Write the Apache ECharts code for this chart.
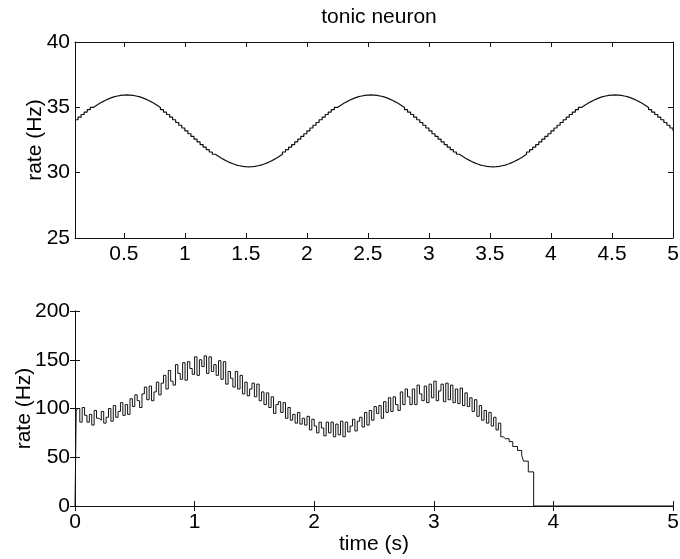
<!DOCTYPE html>
<html>
<head>
<meta charset="utf-8">
<script src="https://cdn.jsdelivr.net/npm/echarts@6/dist/echarts.min.js"></script>
<style>html,body{margin:0;padding:0;background:#fff}#c{width:680px;height:559px}</style>
</head>
<body>
<div id="c"></div>
<script>
// ---- data ----
const titleText = 'tonic neuron';
// top panel: rate sampled every 0.025 s starting at 0.1 s
const topStart = 0.1, topStep = 0.025;
const topRates = [
 34.05,34.25,34.45,34.64,34.82,34.99,35.14,35.29,35.42,35.54,35.65,35.74,35.82,35.87,35.92,35.94,35.95,
 35.94,35.92,35.87,35.82,35.74,35.65,35.54,35.42,35.29,35.14,34.99,34.82,34.64,34.45,34.25,34.05,33.84,33.63,33.42,
 33.20,32.98,32.77,32.56,32.35,32.15,31.95,31.76,31.58,31.41,31.26,31.11,30.98,30.86,30.75,30.66,30.58,30.53,30.48,30.46,30.45,
 30.46,30.48,30.53,30.58,30.66,30.75,30.86,30.98,31.11,31.26,31.41,31.58,31.76,31.95,32.15,32.35,32.56,32.77,32.98,
 33.20,33.42,33.63,33.84,34.05,34.25,34.45,34.64,34.82,34.99,35.14,35.29,35.42,35.54,35.65,35.74,35.82,35.87,35.92,35.94,35.95,
 35.94,35.92,35.87,35.82,35.74,35.65,35.54,35.42,35.29,35.14,34.99,34.82,34.64,34.45,34.25,34.05,33.84,33.63,33.42,
 33.20,32.98,32.77,32.56,32.35,32.15,31.95,31.76,31.58,31.41,31.26,31.11,30.98,30.86,30.75,30.66,30.58,30.53,30.48,30.46,30.45,
 30.46,30.48,30.53,30.58,30.66,30.75,30.86,30.98,31.11,31.26,31.41,31.58,31.76,31.95,32.15,32.35,32.56,32.77,32.98,
 33.20,33.42,33.63,33.84,34.05,34.25,34.45,34.64,34.82,34.99,35.14,35.29,35.42,35.54,35.65,35.74,35.82,35.87,35.92,35.94,35.95,
 35.94,35.92,35.87,35.82,35.74,35.65,35.54,35.42,35.29,35.14,34.99,34.82,34.64,34.45,34.25,34.05,33.84,33.63,33.42,33.20
];
const topXTicks = [0.5,1,1.5,2,2.5,3,3.5,4,4.5,5];

// bottom panel
const onsetTimes = [0, 0.01];
const onsetRates = [0, 97];
const bottomStart = 0.02, bottomStep = 0.02;
const bottomRates = [
 100,86,101,93,86,94,83,98,90,88, 97,85,91,100,87,103,91,97,106,93,
 104,94,110,102,114,108,101,115,122,109, 123,108,117,127,114,126,134,120,139,128,
 124,145,136,130,147,129,148,141,135,153, 134,150,143,154,136,153,138,145,134,149,
 130,148,125,138,131,122,138,120,134,115, 127,113,120,126,112,125,108,117,104,116,
 101,112,95,104,107,96,106,90,101,88, 94,85,96,84,90,83,92,78,89,82,
 75,86,80,72,86,75,86,71,84,73, 87,71,86,76,82,89,77,87,91,81,
 96,83,98,88,102,95,103,90,107,96, 111,97,112,104,98,117,104,120,112,104,
 120,104,124,115,108,123,106,125,111,128, 108,118,125,107,126,109,124,106,120,105,
 121,103,116,102,111,97,109,92,103,88, 98,85,96,82,91,78,85,71,69
];
const tailTimes = [3.60, 3.63, 3.66, 3.70, 3.735, 3.75, 3.79, 3.835, 5];
const tailRates = [69, 66, 61, 57, 52, 46, 35, 0, 0];

// ---- build series points ----
const topPts = topRates.map((v,i)=>[+(topStart + i*topStep).toFixed(3), v]);
const botPts = [];
onsetTimes.forEach((t,i)=>botPts.push([t, onsetRates[i]]));
bottomRates.forEach((v,i)=>botPts.push([+(bottomStart + i*bottomStep).toFixed(3), v]));
tailTimes.forEach((t,i)=>botPts.push([t, tailRates[i]]));

const FONT = 'Liberation Sans';
const FS = 21;
const INK = '#111';
const line = {show:true, lineStyle:{color:INK, width:1}};
const lab = {color:'#000', fontFamily:FONT, fontSize:FS};
const nameStyle = {color:'#000', fontFamily:FONT, fontSize:FS};

function tk(){ return {show:true, inside:true, length:5, lineStyle:{color:INK, width:1}}; }

function xA(grid, pos, min, max, showLab, extra){
  const a = {type:'value', gridIndex:grid, position:pos, min:min, max:max,
    axisLine:line, splitLine:{show:false},
    axisTick:tk(),
    axisLabel:Object.assign({}, lab, {show:showLab, margin:6}),
    nameTextStyle:nameStyle, nameMoveOverlap:false};
  return Object.assign(a, extra||{});
}
function yA(grid, pos, min, max, showLab, extra){
  const a = {type:'value', gridIndex:grid, position:pos, min:min, max:max,
    axisLine:line, splitLine:{show:false},
    axisTick:tk(),
    axisLabel:Object.assign({}, lab, {show:showLab, margin:5}),
    nameTextStyle:nameStyle, nameMoveOverlap:false};
  return Object.assign(a, extra||{});
}

const topX = (pos, show) => {
  const a = xA(0, pos, 0.1, 5, show);
  a.axisTick.customValues = topXTicks;
  a.axisLabel.customValues = topXTicks;
  return a;
};

const chart = echarts.init(document.getElementById('c'), null, {renderer:'canvas'});
chart.setOption({
  backgroundColor:'#fff',
  animation:false,
  title:{text:titleText, left:374, top:2, textAlign:'center',
    textStyle:{color:'#000', fontFamily:FONT, fontSize:FS, fontWeight:'normal'}},
  grid:[
    {left:75, right:7, top:42, height:196, containLabel:false, outerBoundsMode:'none'},
    {left:75, right:7, top:311, height:195, containLabel:false, outerBoundsMode:'none'}
  ],
  xAxis:[
    topX('bottom', true),
    topX('top', false),
    xA(1,'bottom',0,5,true,{interval:1, name:'time (s)', nameLocation:'middle', nameGap:28}),
    xA(1,'top',0,5,false,{interval:1})
  ],
  yAxis:[
    yA(0,'left',25,40,true,{interval:5, name:'rate (Hz)', nameLocation:'middle', nameGap:29, nameRotate:90}),
    yA(0,'right',25,40,false,{interval:5}),
    yA(1,'left',0,200,true,{interval:50, name:'rate (Hz)', nameLocation:'middle', nameGap:40, nameRotate:90}),
    yA(1,'right',0,200,false,{interval:50})
  ],
  series:[
    {type:'line', xAxisIndex:0, yAxisIndex:0, data:topPts, step:'end', showSymbol:false,
      lineStyle:{color:INK, width:1.2}},
    {type:'line', xAxisIndex:2, yAxisIndex:2, data:botPts, step:'end', showSymbol:false,
      lineStyle:{color:INK, width:1}}
  ]
});
</script>
</body>
</html>
